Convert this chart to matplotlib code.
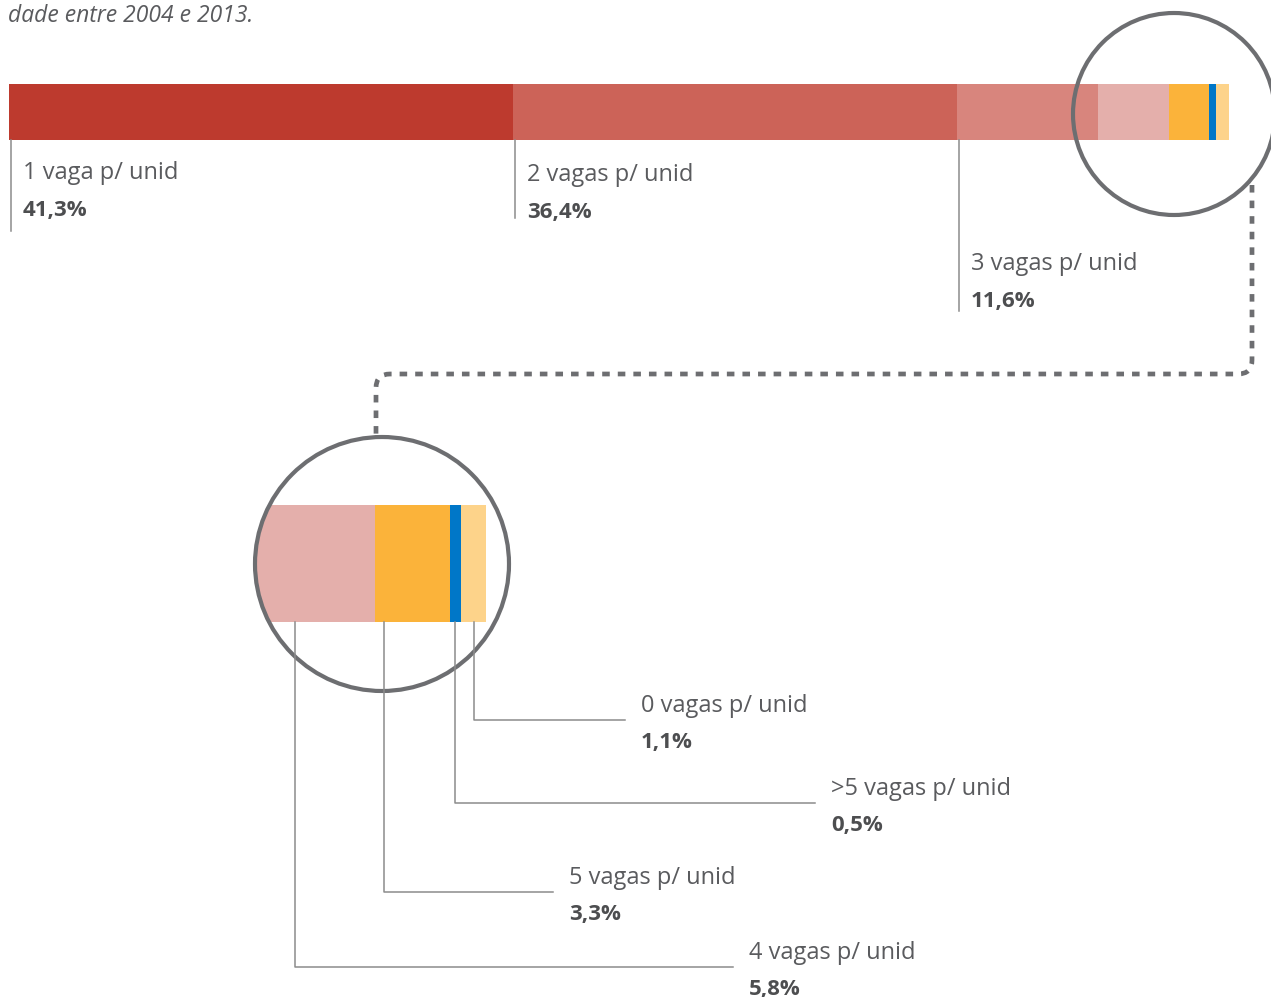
import matplotlib.pyplot as plt
from matplotlib.patches import Circle, PathPatch
from matplotlib.path import Path

# Dados
categorias = ['1 vaga p/ unid', '2 vagas p/ unid', '3 vagas p/ unid',
              '4 vagas p/ unid', '5 vagas p/ unid', '>5 vagas p/ unid',
              '0 vagas p/ unid']
valores = [41.3, 36.4, 11.6, 5.8, 3.3, 0.5, 1.1]
cores = ['#bd3a2e', '#cc6358', '#d8857d', '#e4afab', '#fbb33a', '#0077c8', '#fdd38a']
subtitulo = 'dade entre 2004 e 2013.'

plt.rcParams['font.family'] = ['Open Sans', 'DejaVu Sans']
CINZA_TXT = '#5a5b5e'
CINZA_LINHA = '#8c8c8c'
CINZA_CIRC = '#6d6e71'

W, H = 1271, 997
fig = plt.figure(figsize=(W / 100, H / 100), dpi=100)


def caixa(x0, y0, x1, y1):
    # converte caixa em pixels (origem no topo) para coordenadas da figura
    return [x0 / W, 1 - y1 / H, (x1 - x0) / W, (y1 - y0) / H]


inicios = [sum(valores[:i]) for i in range(len(valores))]

# Barra principal
ax_bar = fig.add_axes(caixa(9, 84, 1229, 140), zorder=1)
ax_bar.barh(0, valores, left=inicios, height=1, color=cores, linewidth=0)
ax_bar.set_xlim(0, 100)
ax_bar.set_ylim(-0.5, 0.5)
ax_bar.axis('off')

# Barra ampliada (escala ~22,65 px por ponto percentual)
esc = 22.65
x_ini = 250
ax_zoom = fig.add_axes(caixa(x_ini, 505, 486, 622), zorder=1)
barras_zoom = ax_zoom.barh(0, valores, left=inicios, height=1, color=cores, linewidth=0)
ax_zoom.set_xlim(100 - (486 - x_ini) / esc, 100)
ax_zoom.set_ylim(-0.5, 0.5)
ax_zoom.axis('off')

# Camada de anotações em pixels
ax = fig.add_axes([0, 0, 1, 1], zorder=3)
ax.set_xlim(0, W)
ax.set_ylim(H, 0)
ax.axis('off')
ax.patch.set_alpha(0)

clip = Circle((382, 564), 126, transform=ax.transData)
for b in barras_zoom:
    b.set_clip_path(clip)


def para_pixel(eixo, xdado):
    xd, _ = eixo.transData.transform((xdado, 0))
    return ax.transData.inverted().transform((xd, 0))[0]


def pct(v):
    return f'{v:.1f}%'.replace('.', ',')


ax.text(8, 16, subtitulo, fontsize=16.5, style='italic', color=CINZA_TXT, va='center')

# Rótulos da barra principal
fim_linha = [231, 218, 311]
y_txt = [173, 175, 264]
for i in range(3):
    xl = para_pixel(ax_bar, inicios[i]) + 2
    ax.plot([xl, xl], [140, fim_linha[i]], color=CINZA_LINHA, lw=1.1)
    ax.text(xl + 12, y_txt[i], categorias[i], fontsize=17, color=CINZA_TXT, va='center')
    ax.text(xl + 12, y_txt[i] + 37, pct(valores[i]), fontsize=16, fontweight='bold',
            color='#4d4e50', va='center')

# Rótulos da barra ampliada
frac = {3: 0.39, 4: 0.12, 5: 0.5, 6: 0.52}
y_hor = {3: 967, 4: 892, 5: 803, 6: 720}
x_fim = {3: 733, 4: 553, 5: 815, 6: 625}
for i in [3, 4, 5, 6]:
    xl = para_pixel(ax_zoom, inicios[i] + frac[i] * valores[i])
    ax.plot([xl, xl, x_fim[i]], [622, y_hor[i], y_hor[i]], color=CINZA_LINHA, lw=1.1)
    xt = x_fim[i] + 16
    yt = y_hor[i] - 14
    ax.text(xt, yt, categorias[i], fontsize=17, color=CINZA_TXT, va='center')
    ax.text(xt, yt + 36, pct(valores[i]), fontsize=16, fontweight='bold',
            color='#4d4e50', va='center')

# Círculos
ax.add_patch(Circle((1174, 114), 101, fill=False, ec=CINZA_CIRC, lw=3))
ax.add_patch(Circle((382, 564), 127, fill=False, ec=CINZA_CIRC, lw=3))

# Ligação tracejada
verts = [(1252, 185), (1252, 360), (1252, 374), (1238, 374), (390, 374),
         (376, 374), (376, 388), (376, 436)]
codes = [Path.MOVETO, Path.LINETO, Path.CURVE3, Path.CURVE3, Path.LINETO,
         Path.CURVE3, Path.CURVE3, Path.LINETO]
ligacao = PathPatch(Path(verts, codes), fill=False, ec=CINZA_CIRC, lw=3.4,
                    linestyle=(0, (1.6, 1.7)), capstyle='butt')
ax.add_patch(ligacao)

fig.savefig('out.png', dpi=100)
